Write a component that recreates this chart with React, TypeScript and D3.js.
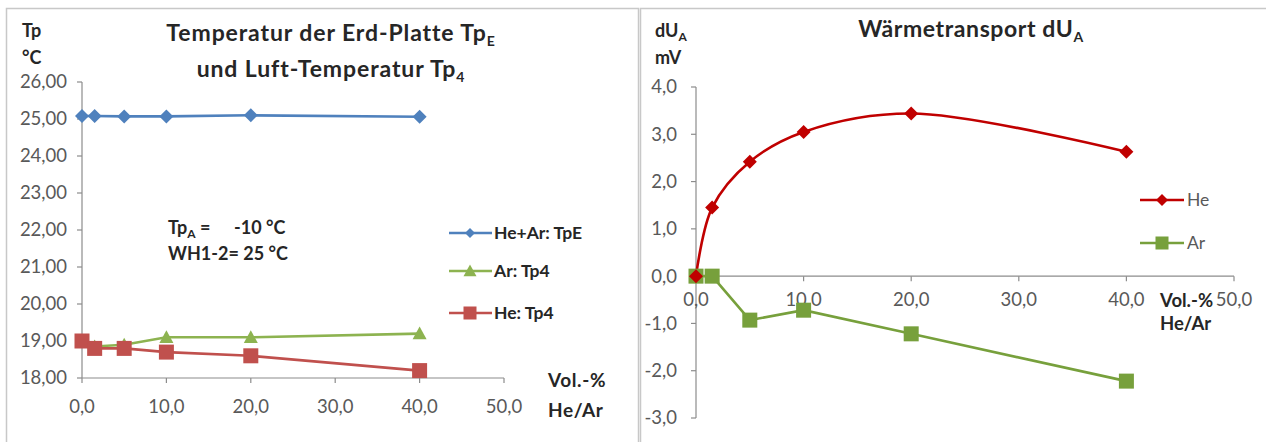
import React from "react"
import * as d3 from "d3"

// Vol.-% He/Ar
const volPercent = [0, 1.5, 5, 10, 20, 40]

// left chart: temperatures in °C
const tpE = [25.08, 25.08, 25.07, 25.07, 25.1, 25.06]
const arTp4 = [19.0, 18.85, 18.9, 19.1, 19.1, 19.2]
const heTp4 = [19.0, 18.8, 18.8, 18.7, 18.6, 18.2]

// right chart: dU_A in mV
const heDU = [0, 1.45, 2.42, 3.05, 3.44, 2.63]
const arDU = [0, 0, -0.93, -0.72, -1.22, -2.22]

const leftYTicks = [18, 19, 20, 21, 22, 23, 24, 25, 26]
const rightYTicks = [-3, -2, -1, 0, 1, 2, 3, 4]
const xTicks = [0, 10, 20, 30, 40, 50]

const FONT = "Lato, 'Open Sans', sans-serif"
const AXIS = "#8c8c8c"
const LABEL = "#595959"
const TEXT = "#262626"

const BLUE = "#4f81bd"
const RED_L = "#c0504d"
const GREEN_L = "#8db350"
const RED_R = "#c00000"
const GREEN_R = "#77a03c"

const comma = (fmt: string) => (v: number) => d3.format(fmt)(v).replace(".", ",").replace("−", "-")

function Diamond({ x, y, r, fill }: { x: number; y: number; r: number; fill: string }) {
  return <path d={`M${x},${y - r}L${x + r},${y}L${x},${y + r}L${x - r},${y}Z`} fill={fill} />
}
function Square({ x, y, r, fill }: { x: number; y: number; r: number; fill: string }) {
  return <rect x={x - r} y={y - r} width={2 * r} height={2 * r} fill={fill} />
}
function Triangle({ x, y, r, fill }: { x: number; y: number; r: number; fill: string }) {
  return <path d={`M${x},${y - r}L${x + r},${y + r * 0.8}L${x - r},${y + r * 0.8}Z`} fill={fill} />
}

type MarkerKind = "diamond" | "square" | "triangle"
function Marker({ kind, x, y, r, fill }: { kind: MarkerKind; x: number; y: number; r: number; fill: string }) {
  if (kind === "diamond") return <Diamond x={x} y={y} r={r} fill={fill} />
  if (kind === "square") return <Square x={x} y={y} r={r} fill={fill} />
  return <Triangle x={x} y={y} r={r} fill={fill} />
}

function LeftChart() {
  const x = d3.scaleLinear().domain([0, 50]).range([82, 504])
  const y = d3.scaleLinear().domain([18, 26]).range([378, 82])
  const line = d3
    .line<number>()
    .x((_, i) => x(volPercent[i]))
    .y(d => y(d))
  const fmt = comma(".2f")
  const fmtX = comma(".1f")

  const series = [
    { name: "He+Ar: TpE", values: tpE, color: BLUE, kind: "diamond" as MarkerKind, r: 7 },
    { name: "Ar: Tp4", values: arTp4, color: GREEN_L, kind: "triangle" as MarkerKind, r: 7 },
    { name: "He: Tp4", values: heTp4, color: RED_L, kind: "square" as MarkerKind, r: 7.5 },
  ]
  const legendY = [233, 271, 313]

  return (
    <g fontFamily={FONT}>
      {/* axes */}
      <line x1={x(0)} x2={x(0)} y1={y(26)} y2={y(18)} stroke={AXIS} strokeWidth={1.2} />
      <line x1={x(0)} x2={x(50)} y1={y(18)} y2={y(18)} stroke={AXIS} strokeWidth={1.2} />
      {leftYTicks.map(t => (
        <g key={t}>
          <line x1={x(0) - 5} x2={x(0)} y1={y(t)} y2={y(t)} stroke={AXIS} strokeWidth={1.2} />
          <text x={67} y={y(t)} dy="0.35em" textAnchor="end" fontSize={18.5} fill={LABEL}>
            {fmt(t)}
          </text>
        </g>
      ))}
      {xTicks.map(t => (
        <g key={t}>
          <line x1={x(t)} x2={x(t)} y1={y(18)} y2={y(18) + 5} stroke={AXIS} strokeWidth={1.2} />
          <text x={x(t)} y={407} dy="0.35em" textAnchor="middle" fontSize={18.5} fill={LABEL}>
            {fmtX(t)}
          </text>
        </g>
      ))}

      {/* series */}
      {series.map(s => (
        <g key={s.name}>
          <path d={line(s.values) ?? ""} fill="none" stroke={s.color} strokeWidth={2.6} />
        </g>
      ))}
      {series.map(s =>
        s.values.map((v, i) => (
          <Marker key={s.name + i} kind={s.kind} x={x(volPercent[i])} y={y(v)} r={s.r} fill={s.color} />
        ))
      )}

      {/* legend */}
      {series.map((s, i) => (
        <g key={s.name}>
          <line x1={449} x2={492} y1={legendY[i]} y2={legendY[i]} stroke={s.color} strokeWidth={2.6} />
          <Marker kind={s.kind} x={470} y={legendY[i]} r={s.kind === "diamond" ? 5 : 6.5} fill={s.color} />
          <text x={494} y={legendY[i]} dy="0.35em" fontSize={17.5} fontWeight="bold" fill={TEXT}>
            {s.name}
          </text>
        </g>
      ))}

      {/* titles */}
      <text x={331} y={41} textAnchor="middle" fontSize={23} letterSpacing={0.9} fontWeight="bold" fill={TEXT}>
        Temperatur der Erd-Platte Tp
        <tspan fontSize={14} dy={5}>E</tspan>
      </text>
      <text x={331} y={77} textAnchor="middle" fontSize={23} letterSpacing={0.9} fontWeight="bold" fill={TEXT}>
        und Luft-Temperatur Tp
        <tspan fontSize={14} dy={5}>4</tspan>
      </text>
      <text x={22} y={37} fontSize={18} fontWeight="bold" fill={TEXT}>Tp</text>
      <text x={22} y={64} fontSize={18} fontWeight="bold" fill={TEXT}>°C</text>

      <text x={168} y={234} fontSize={18} fontWeight="bold" fill={TEXT}>
        Tp<tspan fontSize={12} dy={4}>A</tspan>
        <tspan dy={-4}> =</tspan>
      </text>
      <text x={234} y={234} fontSize={18} fontWeight="bold" fill={TEXT}>-10 °C</text>
      <text x={168} y={260} fontSize={18} fontWeight="bold" fill={TEXT}>WH1-2= 25 °C</text>

      <text x={548} y={387} fontSize={19} letterSpacing={0.6} fontWeight="bold" fill={TEXT}>Vol.-%</text>
      <text x={548} y={417} fontSize={19} letterSpacing={0.6} fontWeight="bold" fill={TEXT}>He/Ar</text>
    </g>
  )
}

function RightChart() {
  const x = d3.scaleLinear().domain([0, 50]).range([696, 1234])
  const y = d3.scaleLinear().domain([-3, 4]).range([418, 87])
  const smooth = d3
    .line<number>()
    .x((_, i) => x(volPercent[i]))
    .y(d => y(d))
    .curve(d3.curveCatmullRom.alpha(0.5))
  const straight = d3
    .line<number>()
    .x((_, i) => x(volPercent[i]))
    .y(d => y(d))
  const fmt = comma(".1f")

  return (
    <g fontFamily={FONT}>
      <line x1={x(0)} x2={x(0)} y1={y(4)} y2={y(-3)} stroke={AXIS} strokeWidth={1.2} />
      <line x1={x(0)} x2={x(50)} y1={y(0)} y2={y(0)} stroke={AXIS} strokeWidth={1.2} />
      {rightYTicks.map(t => (
        <g key={t}>
          <line x1={x(0) - 5} x2={x(0)} y1={y(t)} y2={y(t)} stroke={AXIS} strokeWidth={1.2} />
          <text x={677} y={y(t)} dy="0.35em" textAnchor="end" fontSize={18.5} fill={LABEL}>
            {fmt(t)}
          </text>
        </g>
      ))}
      {xTicks.map(t => (
        <g key={t}>
          <line x1={x(t)} x2={x(t)} y1={y(0)} y2={y(0) + 5} stroke={AXIS} strokeWidth={1.2} />
          <text x={x(t)} y={y(0) + 23} dy="0.35em" textAnchor="middle" fontSize={18.5} fill={LABEL}>
            {fmt(t)}
          </text>
        </g>
      ))}

      <path d={straight(arDU) ?? ""} fill="none" stroke={GREEN_R} strokeWidth={2.6} />
      <path d={smooth(heDU) ?? ""} fill="none" stroke={RED_R} strokeWidth={2.6} />
      {arDU.map((v, i) => (
        <Square key={"ar" + i} x={x(volPercent[i])} y={y(v)} r={7.5} fill={GREEN_R} />
      ))}
      {heDU.map((v, i) => (
        <Diamond key={"he" + i} x={x(volPercent[i])} y={y(v)} r={7} fill={RED_R} />
      ))}

      {/* legend */}
      <line x1={1140} x2={1184} y1={200} y2={200} stroke={RED_R} strokeWidth={2.6} />
      <Diamond x={1162} y={200} r={6} fill={RED_R} />
      <text x={1187} y={200} dy="0.35em" fontSize={17.5} fill={LABEL}>He</text>
      <line x1={1140} x2={1184} y1={243} y2={243} stroke={GREEN_R} strokeWidth={2.6} />
      <Square x={1162} y={243} r={6.5} fill={GREEN_R} />
      <text x={1187} y={243} dy="0.35em" fontSize={17.5} fill={LABEL}>Ar</text>

      <text x={971} y={37} textAnchor="middle" fontSize={23} letterSpacing={0.6} fontWeight="bold" fill={TEXT}>
        Wärmetransport dU<tspan fontSize={14} dy={5}>A</tspan>
      </text>
      <text x={655} y={37} fontSize={18} fontWeight="bold" fill={TEXT}>
        dU<tspan fontSize={12} dy={4}>A</tspan>
      </text>
      <text x={655} y={64} fontSize={18} fontWeight="bold" fill={TEXT}>mV</text>

      <text x={1160} y={y(0) + 24} dy="0.35em" fontSize={18.5} fontWeight="bold" fill={TEXT}>Vol.-%</text>
      <text x={1160} y={y(0) + 47} dy="0.35em" fontSize={18.5} fontWeight="bold" fill={TEXT}>He/Ar</text>
    </g>
  )
}

export default function App() {
  return (
    <svg
      width={1266}
      height={442}
      style={{ position: "absolute", left: 0, top: 0, background: "#fff" }}
    >
      <rect x={0} y={0} width={1266} height={442} fill="#fff" />
      <rect x={6.5} y={8.5} width={632} height={440} fill="none" stroke="#c8c8c8" strokeWidth={1.5} />
      <rect x={640.5} y={8.5} width={630} height={440} fill="none" stroke="#c8c8c8" strokeWidth={1.5} />
      <LeftChart />
      <RightChart />
    </svg>
  )
}
